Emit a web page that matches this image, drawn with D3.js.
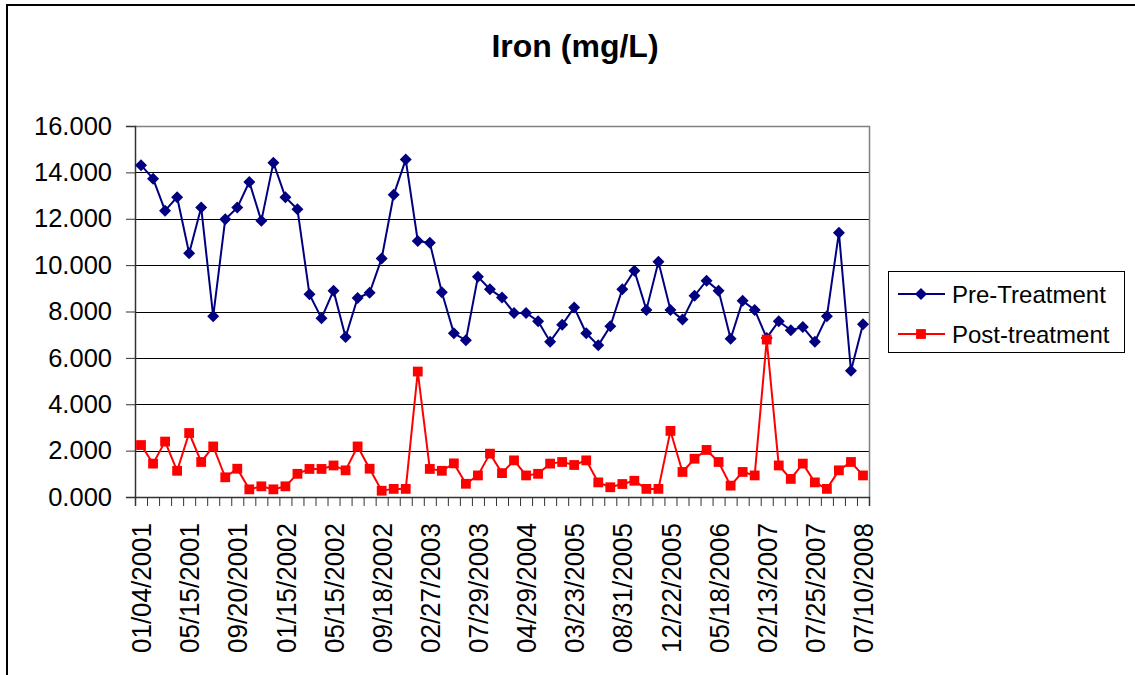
<!DOCTYPE html>
<html>
<head>
<meta charset="utf-8">
<script src="https://cdn.jsdelivr.net/npm/d3@7"></script>
<style>
  body { margin: 0; background: #fff; }
  svg { display: block; font-family: "Liberation Sans", Arial, sans-serif; }
</style>
</head>
<body>
<svg id="chart" width="1135" height="675"></svg>
<script>
// ---------------------------------------------
//  Data (one value per sample)
// ---------------------------------------------

const preTreatment = [
  14.31, 13.73, 12.35, 12.93, 10.51, 12.49, 7.79, 11.98, 12.48, 13.59,
  11.91, 14.42, 12.93, 12.41, 8.74, 7.71, 8.90, 6.90, 8.58, 8.81,
  10.29, 13.03, 14.55, 11.04, 10.96, 8.83, 7.06, 6.76, 9.50, 8.96,
  8.60, 7.94, 7.94, 7.58, 6.70, 7.43, 8.17, 7.06, 6.54, 7.36,
  8.96, 9.76, 8.07, 10.15, 8.07, 7.65, 8.68, 9.33, 8.90, 6.82,
  8.46, 8.07, 6.86, 7.58, 7.19, 7.33, 6.70, 7.79, 11.40, 5.45,
  7.45
];

const postTreatment = [
  2.24, 1.44, 2.39, 1.13, 2.76, 1.51, 2.18, 0.85, 1.22, 0.33,
  0.46, 0.33, 0.46, 1.00, 1.21, 1.21, 1.36, 1.15, 2.18, 1.22,
  0.27, 0.35, 0.35, 5.41, 1.21, 1.13, 1.45, 0.57, 0.93, 1.87,
  1.03, 1.58, 0.93, 1.00, 1.44, 1.51, 1.38, 1.58, 0.63, 0.42,
  0.56, 0.70, 0.35, 0.35, 2.85, 1.08, 1.65, 2.03, 1.51, 0.49,
  1.08, 0.93, 6.79, 1.36, 0.78, 1.44, 0.63, 0.35, 1.15, 1.51,
  0.93
];

// Only every 4th sample date is printed on the axis
const tickLabels = [
  "01/04/2001", "05/15/2001", "09/20/2001", "01/15/2002",
  "05/15/2002", "09/18/2002", "02/27/2003", "07/29/2003",
  "04/29/2004", "03/23/2005", "08/31/2005", "12/22/2005",
  "05/18/2006", "02/13/2007", "07/25/2007", "07/10/2008"
];
const labelStep = 4;

const yTicks = [0, 2, 4, 6, 8, 10, 12, 14, 16];

// diamond = a square turned 45 degrees (Excel style, same width and height)
const series = [
  { name: "Pre-Treatment", values: preTreatment, color: "#000080", size: 72, rotate: 45 },
  { name: "Post-treatment", values: postTreatment, color: "#FF0000", size: 96, rotate: 0 }
];

// ---------------------------------------------
//  Scales & layout
// ---------------------------------------------

const svg = d3.select("#chart");
const plot = { left: 135, right: 869, top: 126, bottom: 497 };
const n = preTreatment.length;

// category boundaries -> x; points sit in the middle of each slot
const x = d3.scaleLinear().domain([0, n]).range([plot.left, plot.right]);
const y = d3.scaleLinear().domain([0, 16]).range([plot.bottom, plot.top]);
const cx = i => x(i + 0.5);

// outer chart frame
svg.append("rect")
  .attr("x", 7).attr("y", 5)
  .attr("width", 1140).attr("height", 680)
  .attr("fill", "none").attr("stroke", "#000").attr("stroke-width", 2);

// title
svg.append("text")
  .attr("x", 575).attr("y", 57)
  .attr("text-anchor", "middle")
  .attr("font-size", 32).attr("font-weight", "bold")
  .text("Iron (mg/L)");

// gridlines
svg.append("g")
  .selectAll("line")
  .data(yTicks)
  .join("line")
  .attr("x1", plot.left).attr("x2", plot.right)
  .attr("y1", d => Math.round(y(d)) + 0.5).attr("y2", d => Math.round(y(d)) + 0.5)
  .attr("stroke", "#000").attr("stroke-width", 1);

// plot frame (right + top, grey)
svg.append("path")
  .attr("d", `M${plot.left},${plot.top + 0.5}H${plot.right + 0.5}V${plot.bottom}`)
  .attr("fill", "none").attr("stroke", "#808080").attr("stroke-width", 1.5);

// y axis
const yAxis = svg.append("g")
  .attr("transform", `translate(${plot.left},0)`)
  .call(d3.axisLeft(y).tickValues(yTicks).tickSize(9).tickPadding(14).tickFormat(d3.format(".3f")));
yAxis.select(".domain").attr("stroke", "#333").attr("stroke-width", 1.5);
yAxis.selectAll(".tick line").attr("stroke", "#333");
yAxis.selectAll("text").attr("font-size", 25.5).attr("fill", "#000")
  .attr("font-family", "Liberation Sans, Arial, sans-serif");

// x axis: tick marks on every category boundary
const xAxis = svg.append("g")
  .attr("transform", `translate(0,${plot.bottom})`)
  .call(d3.axisBottom(x).tickValues(d3.range(n + 1)).tickSize(9).tickFormat(""));
xAxis.select(".domain").attr("stroke", "#333").attr("stroke-width", 1.5);
xAxis.selectAll(".tick line").attr("stroke", "#333");

// rotated date labels
svg.append("g")
  .selectAll("text")
  .data(tickLabels)
  .join("text")
  .attr("transform", (d, i) => `translate(${cx(i * labelStep)},${plot.bottom + 26}) rotate(-90)`)
  .attr("text-anchor", "end")
  .attr("dy", "0.36em")
  .attr("font-size", 28)
  .attr("textLength", 130)
  .attr("lengthAdjust", "spacingAndGlyphs")
  .text(d => d);

// ---------------------------------------------
//  Series
// ---------------------------------------------

const line = d3.line().x((d, i) => cx(i)).y(d => y(d));

series.forEach(s => {
  svg.append("path")
    .datum(s.values)
    .attr("d", line)
    .attr("fill", "none")
    .attr("stroke", s.color)
    .attr("stroke-width", 2);

  svg.append("g")
    .selectAll("path")
    .data(s.values)
    .join("path")
    .attr("transform", (d, i) => `translate(${cx(i)},${y(d)}) rotate(${s.rotate})`)
    .attr("d", d3.symbol(d3.symbolSquare, s.size))
    .attr("fill", s.color);
});

// ---------------------------------------------
//  Legend
// ---------------------------------------------

const legend = svg.append("g");
legend.append("rect")
  .attr("x", 888.5).attr("y", 271.5)
  .attr("width", 236).attr("height", 81)
  .attr("fill", "#fff").attr("stroke", "#000").attr("stroke-width", 1);

series.forEach((s, i) => {
  const ly = 294 + i * 40;
  legend.append("line")
    .attr("x1", 898).attr("x2", 945)
    .attr("y1", ly).attr("y2", ly)
    .attr("stroke", s.color).attr("stroke-width", 2);
  legend.append("path")
    .attr("transform", `translate(921,${ly}) rotate(${s.rotate})`)
    .attr("d", d3.symbol(d3.symbolSquare, s.size))
    .attr("fill", s.color);
  legend.append("text")
    .attr("x", 952).attr("y", ly)
    .attr("dy", "0.36em")
    .attr("font-size", 24)
    .text(s.name);
});
</script>
</body>
</html>
